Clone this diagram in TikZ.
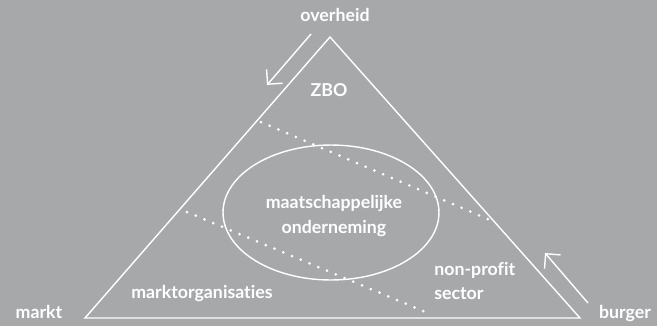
\documentclass[tikz,border=0pt]{standalone}
\usepackage{fontspec}
\setmainfont{Lato}[Ligatures=NoCommon]
\usetikzlibrary{arrows.meta}
\definecolor{bggray}{HTML}{A7A8AA}

\begin{document}
\begin{tikzpicture}[x=0.02cm,y=-0.02cm,
  lbl/.style={text=white,inner sep=0pt,font=\bfseries\fontsize{10.1}{14}\selectfont},
  edgeline/.style={white,line width=0.8pt},
  dotline/.style={white,line width=1.7pt,line cap=round,dash pattern=on 0pt off 5.4pt},
  moveline/.style={-{Straight Barb[length=6pt,width=12pt]},white,line width=0.8pt}]
\fill[bggray] (0,0) rectangle (657,326);
% corners of the triangle
\coordinate (ov) at (330,37);
\coordinate (ma) at (85,318);
\coordinate (bu) at (580,318);
\draw[edgeline] (ov) -- (bu) -- (ma) -- cycle;
% the social enterprise in the middle
\draw[edgeline] (331,212.5) ellipse [x radius=2.16cm, y radius=1.35cm];
% dotted borders of the sectors
\coordinate (d1a) at (261,122);
\coordinate (d1b) at (490,220);
\coordinate (d2a) at (187,212);
\coordinate (d2b) at (428,313);
\draw[dotline] (d1a) -- (d1b);
\draw[dotline] (d2a) -- (d2b);
% shifts
\coordinate (s1a) at (311,34);
\coordinate (s1b) at (267,85);
\coordinate (s2a) at (588,303);
\coordinate (s2b) at (545,253);
\draw[moveline] (s1a) -- (s1b);
\draw[moveline] (s2a) -- (s2b);
% labels
\node[lbl,anchor=base] (overheid) at (335,21) {overheid};
\node[lbl,anchor=base] (markt) at (39,318.5) {markt};
\node[lbl,anchor=base] (burger) at (625,318.5) {burger};
\node[lbl,anchor=base] (zbo) at (329,96) {ZBO};
\node[lbl,align=center] (maatsch) at (334,216) {maatschappelijke\\onderneming};
\node[lbl,anchor=base west] (marktorg) at (131,298) {marktorganisaties};
\node[lbl,align=left,anchor=west] (nonprofit) at (434,281) {non-profit\\sector};
\end{tikzpicture}
\end{document}
